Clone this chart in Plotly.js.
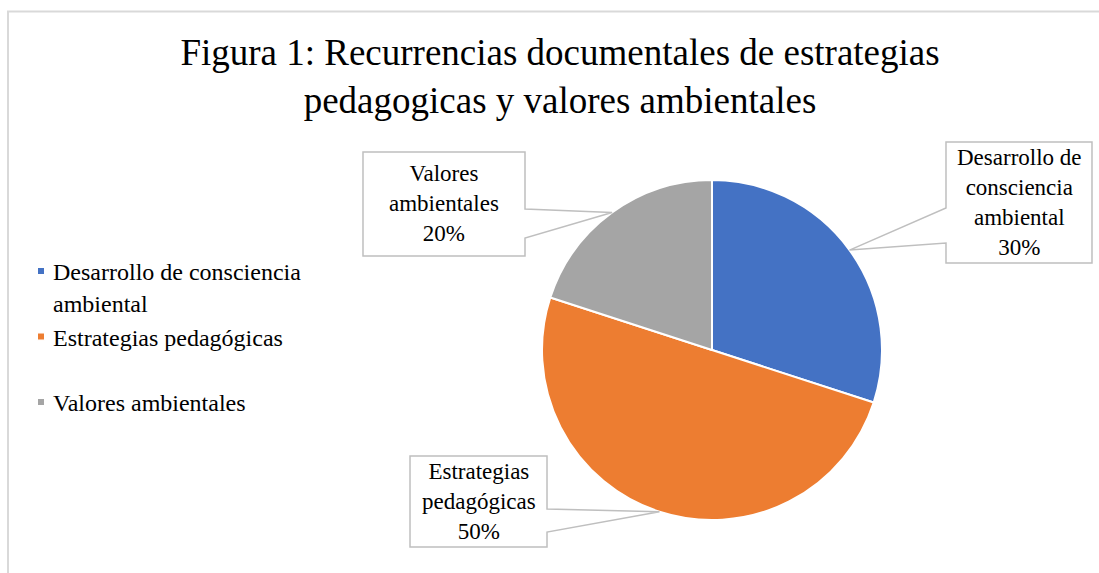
<!DOCTYPE html>
<html>
<head>
<meta charset="utf-8">
<script src="https://cdn.plot.ly/plotly-3.0.1.min.js"></script>
<style>
  html, body { margin: 0; padding: 0; background: #ffffff; }
  #chart { width: 1099px; height: 573px; }
</style>
</head>
<body>
<div id="chart"></div>
<script>
// ---- data ----
const categories = ['Desarrollo de consciencia ambiental', 'Estrategias pedagógicas', 'Valores ambientales'];
const values = [30, 50, 20];
const colors = ['#4472C4', '#ED7D31', '#A5A5A5'];
const legendLabels = ['Desarrollo de consciencia<br>ambiental', 'Estrategias pedagógicas<br>&nbsp;', 'Valores ambientales'];
const calloutLabels = ['Desarrollo de<br>consciencia<br>ambiental', 'Estrategias<br>pedagógicas', 'Valores<br>ambientales'];
const titleText = 'Figura 1: Recurrencias documentales de estrategias<br>pedagogicas y valores ambientales';

// ---- layout constants (pixels) ----
const W = 1099, H = 573;
const pieDomain = { x: [542 / W, 882 / W], y: [1 - 520 / H, 1 - 180 / H] };
// callout boxes: [x0, x1, y0, y1, side of pointer, pointer base a0, a1]
const boxes = [
  { x0: 946, x1: 1092, y0: 142, y1: 263, side: 'left',  a0: 208, a1: 243 },
  { x0: 410, x1: 547,  y0: 456, y1: 547, side: 'right', a0: 509, a1: 532 },
  { x0: 363, x1: 525,  y0: 152, y1: 256, side: 'right', a0: 209, a1: 238 }
];
const FONT = '"Liberation Serif", "Times New Roman", serif';

const px = x => x / W;
const py = y => 1 - y / H;

// pie geometry from domain
const cx = (pieDomain.x[0] + pieDomain.x[1]) / 2 * W;
const cy = (1 - (pieDomain.y[0] + pieDomain.y[1]) / 2) * H;
const R = Math.min((pieDomain.x[1] - pieDomain.x[0]) * W, (pieDomain.y[1] - pieDomain.y[0]) * H) / 2;
const total = values.reduce((a, b) => a + b, 0);

const shapes = [{
  type: 'rect', xref: 'paper', yref: 'paper',
  x0: px(8), x1: 1.02, y0: py(11.5), y1: -0.02,
  line: { color: '#D9D9D9', width: 2 }, fillcolor: 'rgba(0,0,0,0)', layer: 'below'
}];
const annotations = [];
let cum = 0;
values.forEach((v, i) => {
  const mid = (cum + v / 2) / total;
  cum += v;
  const ang = mid * 2 * Math.PI;
  const tx = cx + R * Math.sin(ang);
  const ty = cy - R * Math.cos(ang);
  const b = boxes[i];
  let pts;
  if (b.side === 'left') {
    pts = [[b.x0, b.y0], [b.x1, b.y0], [b.x1, b.y1], [b.x0, b.y1], [b.x0, b.a1], [tx, ty], [b.x0, b.a0]];
  } else {
    pts = [[b.x0, b.y0], [b.x1, b.y0], [b.x1, b.a0], [tx, ty], [b.x1, b.a1], [b.x1, b.y1], [b.x0, b.y1]];
  }
  const path = 'M' + pts.map(p => px(p[0]).toFixed(5) + ',' + py(p[1]).toFixed(5)).join(' L') + ' Z';
  shapes.push({
    type: 'path', xref: 'paper', yref: 'paper', path: path,
    line: { color: '#BFBFBF', width: 1.5 }, fillcolor: '#FFFFFF', layer: 'above'
  });
  const pct = Math.round(v / total * 100) + '%';
  annotations.push({
    xref: 'paper', yref: 'paper',
    x: px((b.x0 + b.x1) / 2), y: py((b.y0 + b.y1) / 2),
    xanchor: 'center', yanchor: 'middle',
    text: calloutLabels[i] + '<br>' + pct,
    showarrow: false, align: 'center',
    font: { family: FONT, size: 23, color: '#000000' }
  });
});

const trace = {
  type: 'pie',
  labels: legendLabels,
  values: values,
  customdata: categories,
  marker: { colors: colors, line: { color: '#FFFFFF', width: 2 } },
  sort: false,
  direction: 'clockwise',
  rotation: 0,
  textinfo: 'none',
  hoverinfo: 'none',
  domain: pieDomain,
  automargin: false
};

const layout = {
  width: W, height: H,
  margin: { l: 0, r: 0, t: 0, b: 0, pad: 0 },
  paper_bgcolor: '#FFFFFF',
  plot_bgcolor: '#FFFFFF',
  title: {
    text: titleText,
    x: 560 / W, xanchor: 'center', xref: 'paper',
    y: py(65), yanchor: 'top', yref: 'paper',
    font: { family: FONT, size: 37, color: '#000000' }
  },
  showlegend: true,
  legend: {
    x: px(13), xanchor: 'left',
    y: py(249), yanchor: 'top',
    valign: 'top',
    font: { family: FONT, size: 24, color: '#000000' },
    bgcolor: 'rgba(0,0,0,0)',
    traceorder: 'normal'
  },
  shapes: shapes,
  annotations: annotations
};

Plotly.newPlot('chart', [trace], layout, { displayModeBar: false, staticPlot: true }).then(() => {
  document.querySelectorAll('.legendpie').forEach(p => {
    p.setAttribute('transform', 'translate(28,0) scale(0.6)');
  });
});
</script>
</body>
</html>
